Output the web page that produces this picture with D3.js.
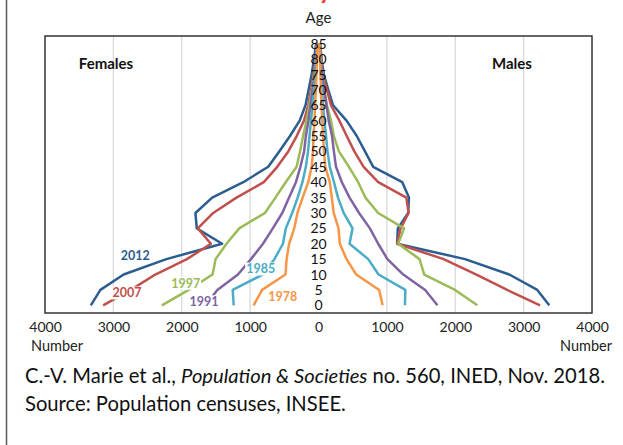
<!DOCTYPE html>
<html><head><meta charset="utf-8">
<script src="https://cdn.jsdelivr.net/npm/d3@7"></script>
<style>
html,body{margin:0;padding:0;background:#fff;}
svg{display:block;font-family:Lato,"Open Sans",sans-serif;}
</style></head>
<body><svg id="c" width="623" height="445"></svg>
<script>
const ages = [0,5,10,15,20,25,30,35,40,45,50,55,60,65,70,75,80,85];
const years = ["2012","2007","1997","1991","1985","1978"];
const colors = ["#2c5d90","#c0504d","#9bbb59","#8064a2","#4bacc6","#f79646"];
const female2012 = [3330,3190,2850,2225,1410,1780,1800,1555,1100,735,574,417,275,190,145,100,66,35];
const female2007 = [3150,2745,2387,1925,1574,1765,1540,1200,800,603,442,319,212,150,110,73,44,25];
const female1997 = [2290,1900,1550,1505,1345,1160,783,630,480,320,270,225,175,135,95,65,37,20];
const female1991 = [1650,1480,1178,988,812,668,530,430,330,265,210,185,146,117,88,58,37,20];
const female1985 = [1240,1255,815,645,520,478,385,305,235,185,153,132,110,88,66,47,30,15];
const female1978 = [950,825,483,466,430,355,308,232,150,100,80,73,58,51,37,29,22,12];
const male2012 = [3375,3200,2790,2143,1150,1160,1312,1323,1225,800,680,560,410,213,143,78,45,25];
const male2007 = [3240,2760,2310,1830,1150,1200,1318,1285,873,660,524,413,305,183,124,66,40,22];
const male1997 = [2323,1997,1547,1478,1165,1252,873,686,580,445,298,225,183,124,88,58,35,18];
const male1991 = [1740,1560,1240,1008,873,752,593,454,342,256,225,198,149,117,80,56,33,17];
const male1985 = [1264,1270,878,727,454,498,368,285,227,165,132,110,88,66,51,37,25,12];
const male1978 = [937,888,551,410,312,293,222,195,165,100,80,66,56,44,37,29,22,12];
const xTicks = [-4000,-3000,-2000,-1000,0,1000,2000,3000,4000];
const gridTicks = [-3000,-2000,-1000,1000,2000,3000];
// label anchors in data units: signed value, fractional age index
const labelValue = [-2680,-2800,-1943,-1673,-845,-523];
const labelIndex = [3.22,0.80,1.43,0.23,2.36,0.60];

const females = [female2012,female2007,female1997,female1991,female1985,female1978];
const males = [male2012,male2007,male1997,male1991,male1985,male1978];

const svg = d3.select("#c");
const L=45, R=592, T=36, B=313;
const x = d3.scaleLinear().domain([-4000,4000]).range([L,R]);
const y = d3.scaleLinear().domain([-0.5, ages.length-0.5]).range([B,T]);

svg.append("rect").attr("width",623).attr("height",445).attr("fill","#fff");
// left border line
svg.append("line").attr("x1",6.5).attr("x2",6.5).attr("y1",0).attr("y2",445)
  .attr("stroke","#595959").attr("stroke-width",1.5);

// title (cut off at the top edge as in the reference)
svg.append("text").attr("x",330).attr("y",-1.5).attr("text-anchor","middle")
  .attr("font-size",26).attr("font-weight","bold").attr("fill","#e8413b").text("Mayotte");

svg.append("text").attr("x",x(0)).attr("y",23).attr("text-anchor","middle")
  .attr("font-size",15).attr("fill","#222").text("Age");

// grid
svg.append("g").selectAll("line").data(gridTicks).join("line")
  .attr("x1",d=>x(d)).attr("x2",d=>x(d)).attr("y1",T).attr("y2",B)
  .attr("stroke","#d9d9d9").attr("stroke-width",1.3);

// frame
svg.append("rect").attr("x",L).attr("y",T).attr("width",R-L).attr("height",B-T)
  .attr("fill","none").attr("stroke","#333").attr("stroke-width",1.5);

// lines
const line = d3.line().x(d=>x(d[0])).y(d=>y(d[1]));
years.forEach((yr,k)=>{
  const fd = females[k].map((v,i)=>[-v,i]);
  const md = males[k].map((v,i)=>[v,i]);
  svg.append("path").attr("d",line(fd)).attr("fill","none").attr("stroke",colors[k])
    .attr("stroke-width",2.5).attr("stroke-linejoin","round");
  svg.append("path").attr("d",line(md)).attr("fill","none").attr("stroke",colors[k])
    .attr("stroke-width",2.5).attr("stroke-linejoin","round");
});

// age labels
svg.append("g").selectAll("text").data(ages).join("text")
  .attr("x",x(0)).attr("y",(d,i)=>y(i)).attr("dy","0.36em").attr("text-anchor","middle")
  .attr("font-size",14).attr("fill","#111").text(d=>d);

// data labels with white backgrounds
const lg = svg.append("g");
years.forEach((yr,k)=>{
  const g = lg.append("g");
  const t = g.append("text").attr("x",x(labelValue[k])).attr("y",y(labelIndex[k])).attr("dy","0.36em")
    .attr("text-anchor","middle").attr("font-size",12.5).attr("font-weight","bold")
    .attr("fill",colors[k]).text(yr);
  const bb = t.node().getBBox();
  g.insert("rect","text").attr("x",bb.x-1).attr("y",bb.y+1).attr("width",bb.width+2).attr("height",bb.height-2)
    .attr("fill","#fff");
});

svg.append("text").attr("x",106).attr("y",64).attr("dy","0.36em").attr("text-anchor","middle")
  .attr("font-size",15).attr("font-weight","bold").attr("fill","#111").text("Females");
svg.append("text").attr("x",512).attr("y",64).attr("dy","0.36em").attr("text-anchor","middle")
  .attr("font-size",15).attr("font-weight","bold").attr("fill","#111").text("Males");

// x axis
const ax = d3.axisBottom(x).tickValues(xTicks).tickSize(0).tickFormat(d=>Math.abs(d));
const axg = svg.append("g").attr("transform",`translate(0,${B})`).call(ax);
axg.select(".domain").remove();
axg.selectAll("text").attr("font-size",14).attr("fill","#222").attr("font-family","Lato").attr("dy","0").attr("y",19);

svg.append("text").attr("x",31).attr("y",351).attr("font-size",14.5).attr("fill","#222").text("Number");
svg.append("text").attr("x",612).attr("y",351).attr("text-anchor","end").attr("font-size",14.5).attr("fill","#222").text("Number");

const cap = svg.append("text").attr("x",25).attr("y",383).attr("font-size",20.2).attr("fill","#111");
cap.append("tspan").text("C.-V. Marie et al., ");
cap.append("tspan").attr("font-style","italic").text("Population & Societies");
cap.append("tspan").text(" no. 560, INED, Nov. 2018.");
svg.append("text").attr("x",25).attr("y",411).attr("font-size",20.2).attr("fill","#111")
  .text("Source: Population censuses, INSEE.");
</script></body></html>
